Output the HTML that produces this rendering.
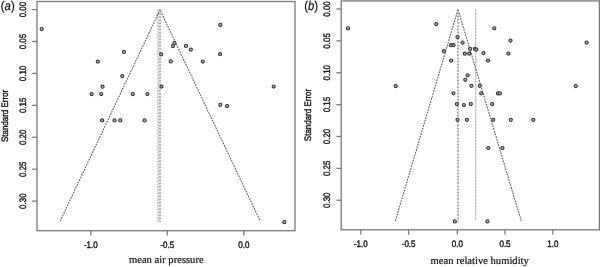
<!DOCTYPE html>
<html><head><meta charset="utf-8"><style>
html,body{margin:0;padding:0;background:#fff;width:600px;height:267px;overflow:hidden}
svg{display:block}
.g{filter:blur(0.35px)}
.t{filter:blur(0.2px)}
text{text-rendering:geometricPrecision;stroke:#111;stroke-width:0.2px}
.tk{font-family:"Liberation Sans",sans-serif;font-size:9.4px;fill:#111;font-weight:normal;stroke-width:0.4px}
.yl{font-family:"Liberation Sans",sans-serif;font-size:9.4px;fill:#111;stroke-width:0.4px}
.tt{font-family:"Liberation Serif",serif;font-size:10.6px;fill:#111;stroke-width:0.22px}
.pn{font-family:"Liberation Sans",sans-serif;font-size:12.6px;fill:#111}
</style></head><body>
<svg width="600" height="267" viewBox="0 0 600 267">
<rect width="600" height="267" fill="#fff"/>
<g class="g">
<rect x="37" y="1.5" width="258" height="229.2" fill="none" stroke="#7a7a7a" stroke-width="1.3"/>
<line x1="32.2" y1="9.60" x2="37" y2="9.60" stroke="#7a7a7a" stroke-width="1.3"/>
<line x1="32.2" y1="41.52" x2="37" y2="41.52" stroke="#7a7a7a" stroke-width="1.3"/>
<line x1="32.2" y1="73.44" x2="37" y2="73.44" stroke="#7a7a7a" stroke-width="1.3"/>
<line x1="32.2" y1="105.36" x2="37" y2="105.36" stroke="#7a7a7a" stroke-width="1.3"/>
<line x1="32.2" y1="137.28" x2="37" y2="137.28" stroke="#7a7a7a" stroke-width="1.3"/>
<line x1="32.2" y1="169.20" x2="37" y2="169.20" stroke="#7a7a7a" stroke-width="1.3"/>
<line x1="32.2" y1="201.12" x2="37" y2="201.12" stroke="#7a7a7a" stroke-width="1.3"/>
<line x1="90.80" y1="230.7" x2="90.80" y2="235.50" stroke="#7a7a7a" stroke-width="1.3"/>
<line x1="167.30" y1="230.7" x2="167.30" y2="235.50" stroke="#7a7a7a" stroke-width="1.3"/>
<line x1="243.80" y1="230.7" x2="243.80" y2="235.50" stroke="#7a7a7a" stroke-width="1.3"/>
<line x1="158.0" y1="9.2" x2="158.0" y2="222.0" stroke="#b8b8b8" stroke-width="1.2" stroke-dasharray="2.6 0.5"/>
<polyline points="60.1,221.3 160.0,9.8 260.3,221.3" fill="none" stroke="#5a5a5a" stroke-width="1.05" stroke-dasharray="1.8 1.0"/>
<line x1="160.0" y1="9.8" x2="160.0" y2="222.0" stroke="#e2e2e2" stroke-width="1.1"/>
<line x1="160.0" y1="9.8" x2="160.0" y2="222.0" stroke="#707070" stroke-width="1.1" stroke-dasharray="1.6 1.6"/>
<circle cx="41.7" cy="29.1" r="1.6" fill="#b0b0b0" stroke="#333333" stroke-width="1.05"/>
<circle cx="220.3" cy="24.9" r="1.6" fill="#b0b0b0" stroke="#333333" stroke-width="1.05"/>
<circle cx="123.9" cy="51.9" r="1.6" fill="#b0b0b0" stroke="#333333" stroke-width="1.05"/>
<circle cx="174.4" cy="43.1" r="1.6" fill="#b0b0b0" stroke="#333333" stroke-width="1.05"/>
<circle cx="172.9" cy="46.0" r="1.6" fill="#b0b0b0" stroke="#333333" stroke-width="1.05"/>
<circle cx="186.0" cy="45.9" r="1.6" fill="#b0b0b0" stroke="#333333" stroke-width="1.05"/>
<circle cx="190.8" cy="49.5" r="1.6" fill="#b0b0b0" stroke="#333333" stroke-width="1.05"/>
<circle cx="161.2" cy="54.3" r="1.6" fill="#b0b0b0" stroke="#333333" stroke-width="1.05"/>
<circle cx="220.1" cy="54.2" r="1.6" fill="#b0b0b0" stroke="#333333" stroke-width="1.05"/>
<circle cx="97.8" cy="61.6" r="1.6" fill="#b0b0b0" stroke="#333333" stroke-width="1.05"/>
<circle cx="170.7" cy="61.4" r="1.6" fill="#b0b0b0" stroke="#333333" stroke-width="1.05"/>
<circle cx="202.8" cy="61.5" r="1.6" fill="#b0b0b0" stroke="#333333" stroke-width="1.05"/>
<circle cx="122.3" cy="76.0" r="1.6" fill="#b0b0b0" stroke="#333333" stroke-width="1.05"/>
<circle cx="102.5" cy="86.7" r="1.6" fill="#b0b0b0" stroke="#333333" stroke-width="1.05"/>
<circle cx="161.5" cy="86.5" r="1.6" fill="#b0b0b0" stroke="#333333" stroke-width="1.05"/>
<circle cx="273.7" cy="86.5" r="1.6" fill="#b0b0b0" stroke="#333333" stroke-width="1.05"/>
<circle cx="91.6" cy="94.0" r="1.6" fill="#b0b0b0" stroke="#333333" stroke-width="1.05"/>
<circle cx="101.2" cy="94.0" r="1.6" fill="#b0b0b0" stroke="#333333" stroke-width="1.05"/>
<circle cx="132.8" cy="94.0" r="1.6" fill="#b0b0b0" stroke="#333333" stroke-width="1.05"/>
<circle cx="147.4" cy="94.0" r="1.6" fill="#b0b0b0" stroke="#333333" stroke-width="1.05"/>
<circle cx="220.3" cy="104.8" r="1.6" fill="#b0b0b0" stroke="#333333" stroke-width="1.05"/>
<circle cx="227.1" cy="106.0" r="1.6" fill="#b0b0b0" stroke="#333333" stroke-width="1.05"/>
<circle cx="102.1" cy="120.4" r="1.6" fill="#b0b0b0" stroke="#333333" stroke-width="1.05"/>
<circle cx="114.5" cy="120.4" r="1.6" fill="#b0b0b0" stroke="#333333" stroke-width="1.05"/>
<circle cx="120.3" cy="120.4" r="1.6" fill="#b0b0b0" stroke="#333333" stroke-width="1.05"/>
<circle cx="144.6" cy="120.4" r="1.6" fill="#b0b0b0" stroke="#333333" stroke-width="1.05"/>
<circle cx="284.3" cy="222.2" r="1.6" fill="#b0b0b0" stroke="#333333" stroke-width="1.05"/>
<rect x="341.2" y="0.9" width="258.2" height="228.9" fill="none" stroke="#7a7a7a" stroke-width="1.3"/>
<line x1="336.4" y1="9.00" x2="341.2" y2="9.00" stroke="#7a7a7a" stroke-width="1.3"/>
<line x1="336.4" y1="40.87" x2="341.2" y2="40.87" stroke="#7a7a7a" stroke-width="1.3"/>
<line x1="336.4" y1="72.74" x2="341.2" y2="72.74" stroke="#7a7a7a" stroke-width="1.3"/>
<line x1="336.4" y1="104.61" x2="341.2" y2="104.61" stroke="#7a7a7a" stroke-width="1.3"/>
<line x1="336.4" y1="136.48" x2="341.2" y2="136.48" stroke="#7a7a7a" stroke-width="1.3"/>
<line x1="336.4" y1="168.35" x2="341.2" y2="168.35" stroke="#7a7a7a" stroke-width="1.3"/>
<line x1="336.4" y1="200.22" x2="341.2" y2="200.22" stroke="#7a7a7a" stroke-width="1.3"/>
<line x1="360.80" y1="229.8" x2="360.80" y2="234.60" stroke="#7a7a7a" stroke-width="1.3"/>
<line x1="408.60" y1="229.8" x2="408.60" y2="234.60" stroke="#7a7a7a" stroke-width="1.3"/>
<line x1="457.30" y1="229.8" x2="457.30" y2="234.60" stroke="#7a7a7a" stroke-width="1.3"/>
<line x1="505.00" y1="229.8" x2="505.00" y2="234.60" stroke="#7a7a7a" stroke-width="1.3"/>
<line x1="552.80" y1="229.8" x2="552.80" y2="234.60" stroke="#7a7a7a" stroke-width="1.3"/>
<line x1="475.7" y1="9.2" x2="475.7" y2="220.8" stroke="#b8b8b8" stroke-width="1.2" stroke-dasharray="2.6 0.5"/>
<polyline points="395.4,220.8 458.0,9.4 521.2,220.8" fill="none" stroke="#5a5a5a" stroke-width="1.05" stroke-dasharray="1.8 1.0"/>
<line x1="458.0" y1="9.4" x2="458.0" y2="221.6" stroke="#e2e2e2" stroke-width="1.1"/>
<line x1="458.0" y1="9.4" x2="458.0" y2="221.6" stroke="#707070" stroke-width="1.1" stroke-dasharray="1.6 1.6"/>
<circle cx="348.0" cy="28.4" r="1.6" fill="#b0b0b0" stroke="#333333" stroke-width="1.05"/>
<circle cx="436.3" cy="24.0" r="1.6" fill="#b0b0b0" stroke="#333333" stroke-width="1.05"/>
<circle cx="395.7" cy="86.0" r="1.6" fill="#b0b0b0" stroke="#333333" stroke-width="1.05"/>
<circle cx="494.3" cy="28.3" r="1.6" fill="#b0b0b0" stroke="#333333" stroke-width="1.05"/>
<circle cx="457.5" cy="37.0" r="1.6" fill="#b0b0b0" stroke="#333333" stroke-width="1.05"/>
<circle cx="450.9" cy="45.2" r="1.6" fill="#b0b0b0" stroke="#333333" stroke-width="1.05"/>
<circle cx="453.5" cy="45.2" r="1.6" fill="#b0b0b0" stroke="#333333" stroke-width="1.05"/>
<circle cx="462.6" cy="42.5" r="1.6" fill="#b0b0b0" stroke="#333333" stroke-width="1.05"/>
<circle cx="443.9" cy="51.2" r="1.6" fill="#b0b0b0" stroke="#333333" stroke-width="1.05"/>
<circle cx="470.1" cy="48.8" r="1.6" fill="#b0b0b0" stroke="#333333" stroke-width="1.05"/>
<circle cx="474.9" cy="48.8" r="1.6" fill="#b0b0b0" stroke="#333333" stroke-width="1.05"/>
<circle cx="476.3" cy="49.6" r="1.6" fill="#b0b0b0" stroke="#333333" stroke-width="1.05"/>
<circle cx="464.8" cy="53.7" r="1.6" fill="#b0b0b0" stroke="#333333" stroke-width="1.05"/>
<circle cx="469.2" cy="53.7" r="1.6" fill="#b0b0b0" stroke="#333333" stroke-width="1.05"/>
<circle cx="483.5" cy="53.1" r="1.6" fill="#b0b0b0" stroke="#333333" stroke-width="1.05"/>
<circle cx="451.1" cy="60.6" r="1.6" fill="#b0b0b0" stroke="#333333" stroke-width="1.05"/>
<circle cx="488.0" cy="60.5" r="1.6" fill="#b0b0b0" stroke="#333333" stroke-width="1.05"/>
<circle cx="510.5" cy="40.6" r="1.6" fill="#b0b0b0" stroke="#333333" stroke-width="1.05"/>
<circle cx="508.4" cy="53.5" r="1.6" fill="#b0b0b0" stroke="#333333" stroke-width="1.05"/>
<circle cx="586.6" cy="42.6" r="1.6" fill="#b0b0b0" stroke="#333333" stroke-width="1.05"/>
<circle cx="575.7" cy="86.0" r="1.6" fill="#b0b0b0" stroke="#333333" stroke-width="1.05"/>
<circle cx="467.6" cy="75.3" r="1.6" fill="#b0b0b0" stroke="#333333" stroke-width="1.05"/>
<circle cx="465.3" cy="79.8" r="1.6" fill="#b0b0b0" stroke="#333333" stroke-width="1.05"/>
<circle cx="471.4" cy="85.8" r="1.6" fill="#b0b0b0" stroke="#333333" stroke-width="1.05"/>
<circle cx="479.8" cy="85.8" r="1.6" fill="#b0b0b0" stroke="#333333" stroke-width="1.05"/>
<circle cx="453.4" cy="93.3" r="1.6" fill="#b0b0b0" stroke="#333333" stroke-width="1.05"/>
<circle cx="481.2" cy="93.3" r="1.6" fill="#b0b0b0" stroke="#333333" stroke-width="1.05"/>
<circle cx="497.9" cy="93.4" r="1.6" fill="#b0b0b0" stroke="#333333" stroke-width="1.05"/>
<circle cx="499.9" cy="93.4" r="1.6" fill="#b0b0b0" stroke="#333333" stroke-width="1.05"/>
<circle cx="456.9" cy="104.0" r="1.6" fill="#b0b0b0" stroke="#333333" stroke-width="1.05"/>
<circle cx="463.9" cy="105.0" r="1.6" fill="#b0b0b0" stroke="#333333" stroke-width="1.05"/>
<circle cx="470.8" cy="104.0" r="1.6" fill="#b0b0b0" stroke="#333333" stroke-width="1.05"/>
<circle cx="492.2" cy="104.0" r="1.6" fill="#b0b0b0" stroke="#333333" stroke-width="1.05"/>
<circle cx="457.5" cy="119.8" r="1.6" fill="#b0b0b0" stroke="#333333" stroke-width="1.05"/>
<circle cx="466.9" cy="119.8" r="1.6" fill="#b0b0b0" stroke="#333333" stroke-width="1.05"/>
<circle cx="493.2" cy="119.8" r="1.6" fill="#b0b0b0" stroke="#333333" stroke-width="1.05"/>
<circle cx="510.8" cy="119.8" r="1.6" fill="#b0b0b0" stroke="#333333" stroke-width="1.05"/>
<circle cx="533.3" cy="119.8" r="1.6" fill="#b0b0b0" stroke="#333333" stroke-width="1.05"/>
<circle cx="488.3" cy="148.0" r="1.6" fill="#b0b0b0" stroke="#333333" stroke-width="1.05"/>
<circle cx="502.4" cy="148.0" r="1.6" fill="#b0b0b0" stroke="#333333" stroke-width="1.05"/>
<circle cx="454.8" cy="221.4" r="1.6" fill="#b0b0b0" stroke="#333333" stroke-width="1.05"/>
<circle cx="487.4" cy="221.4" r="1.6" fill="#b0b0b0" stroke="#333333" stroke-width="1.05"/>
</g>
<g class="t">
<text class="tk" transform="translate(22.60,9.60) rotate(-90) scale(0.85,1)" x="0" y="3.4" text-anchor="middle">0.00</text>
<text class="tk" transform="translate(22.60,41.52) rotate(-90) scale(0.85,1)" x="0" y="3.4" text-anchor="middle">0.05</text>
<text class="tk" transform="translate(22.60,73.44) rotate(-90) scale(0.85,1)" x="0" y="3.4" text-anchor="middle">0.10</text>
<text class="tk" transform="translate(22.60,105.36) rotate(-90) scale(0.85,1)" x="0" y="3.4" text-anchor="middle">0.15</text>
<text class="tk" transform="translate(22.60,137.28) rotate(-90) scale(0.85,1)" x="0" y="3.4" text-anchor="middle">0.20</text>
<text class="tk" transform="translate(22.60,169.20) rotate(-90) scale(0.85,1)" x="0" y="3.4" text-anchor="middle">0.25</text>
<text class="tk" transform="translate(22.60,201.12) rotate(-90) scale(0.85,1)" x="0" y="3.4" text-anchor="middle">0.30</text>
<text class="tk" transform="translate(90.80,247.8) scale(0.85,1)" x="0" y="0" text-anchor="middle">-1.0</text>
<text class="tk" transform="translate(167.30,247.8) scale(0.85,1)" x="0" y="0" text-anchor="middle">-0.5</text>
<text class="tk" transform="translate(243.80,247.8) scale(0.85,1)" x="0" y="0" text-anchor="middle">0.0</text>
<text class="tt" x="166.3" y="262.9" text-anchor="middle">mean air pressure</text>
<text class="yl" transform="translate(4.4,115.9) rotate(-90) scale(0.85,1)" x="0" y="3.4" text-anchor="middle">Standard Error</text>
<text class="pn" transform="translate(0.8,10.3) scale(0.9,1)" x="0" y="0">(<tspan font-style="italic">a</tspan>)</text>
<text class="tk" transform="translate(327.00,9.00) rotate(-90) scale(0.85,1)" x="0" y="3.4" text-anchor="middle">0.00</text>
<text class="tk" transform="translate(327.00,40.87) rotate(-90) scale(0.85,1)" x="0" y="3.4" text-anchor="middle">0.05</text>
<text class="tk" transform="translate(327.00,72.74) rotate(-90) scale(0.85,1)" x="0" y="3.4" text-anchor="middle">0.10</text>
<text class="tk" transform="translate(327.00,104.61) rotate(-90) scale(0.85,1)" x="0" y="3.4" text-anchor="middle">0.15</text>
<text class="tk" transform="translate(327.00,136.48) rotate(-90) scale(0.85,1)" x="0" y="3.4" text-anchor="middle">0.20</text>
<text class="tk" transform="translate(327.00,168.35) rotate(-90) scale(0.85,1)" x="0" y="3.4" text-anchor="middle">0.25</text>
<text class="tk" transform="translate(327.00,200.22) rotate(-90) scale(0.85,1)" x="0" y="3.4" text-anchor="middle">0.30</text>
<text class="tk" transform="translate(360.80,247.1) scale(0.85,1)" x="0" y="0" text-anchor="middle">-1.0</text>
<text class="tk" transform="translate(408.60,247.1) scale(0.85,1)" x="0" y="0" text-anchor="middle">-0.5</text>
<text class="tk" transform="translate(457.30,247.1) scale(0.85,1)" x="0" y="0" text-anchor="middle">0.0</text>
<text class="tk" transform="translate(505.00,247.1) scale(0.85,1)" x="0" y="0" text-anchor="middle">0.5</text>
<text class="tk" transform="translate(552.80,247.1) scale(0.85,1)" x="0" y="0" text-anchor="middle">1.0</text>
<text class="tt" x="479.7" y="263.5" text-anchor="middle">mean relative humidity</text>
<text class="yl" transform="translate(308.0,115.0) rotate(-90) scale(0.85,1)" x="0" y="3.4" text-anchor="middle">Standard Error</text>
<text class="pn" transform="translate(304.2,10.3) scale(0.9,1)" x="0" y="0">(<tspan font-style="italic">b</tspan>)</text>
</g>
</svg>
</body></html>
